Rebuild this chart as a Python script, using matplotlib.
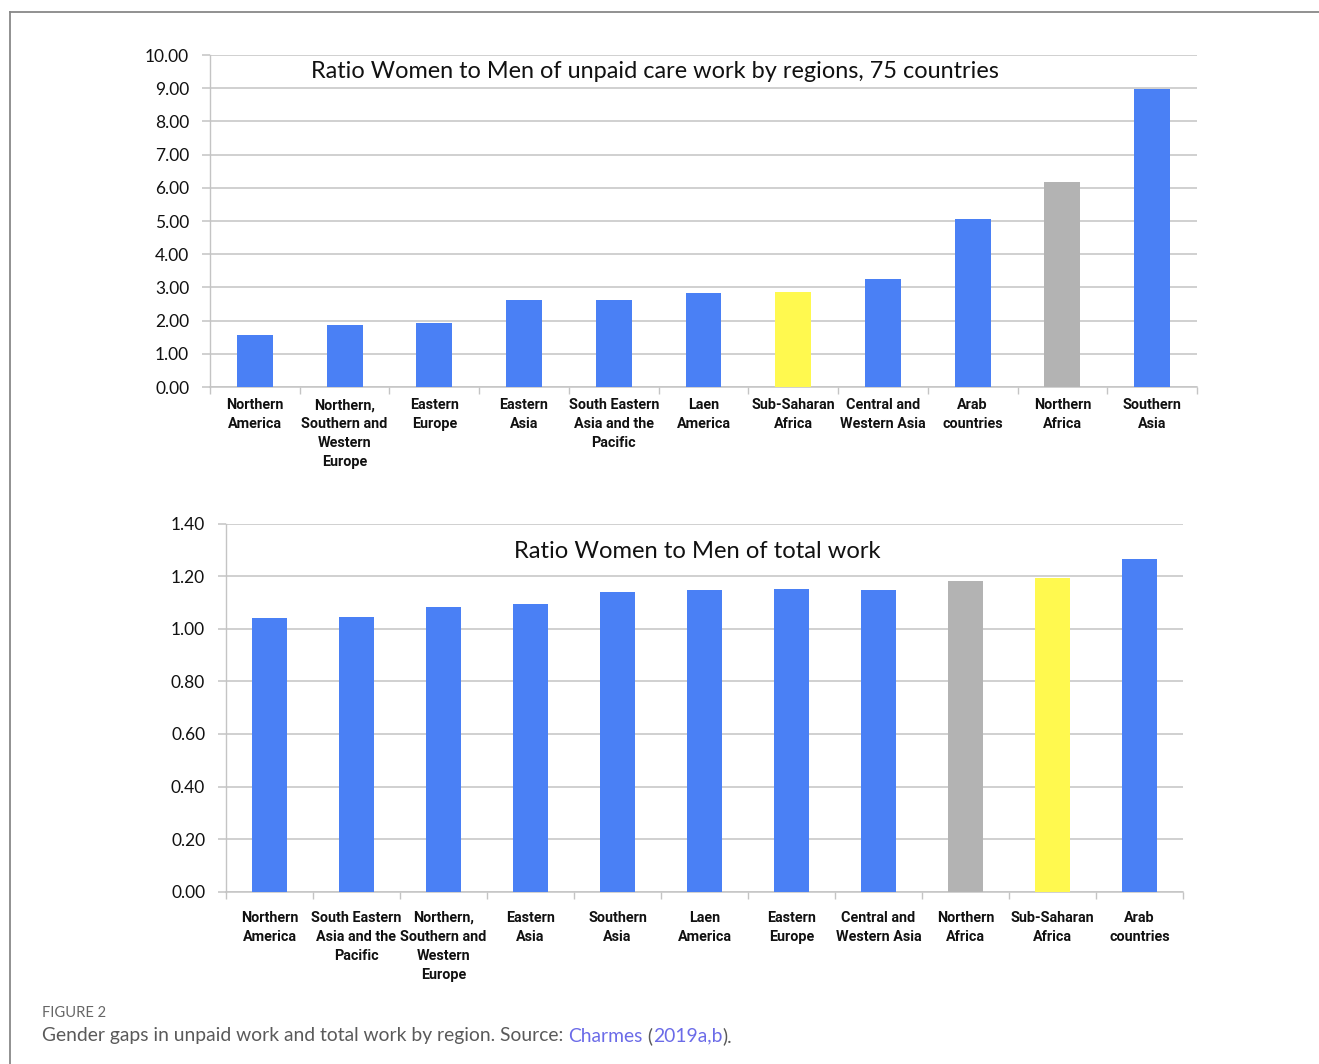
import matplotlib
matplotlib.use("Agg")
import matplotlib.pyplot as plt
from matplotlib.lines import Line2D
from matplotlib.ticker import FormatStrFormatter, FixedLocator
import numpy as np

plt.rcParams['font.family'] = ['Lato', 'DejaVu Sans']

# ---------------- data ----------------
top_regions = ["Northern\nAmerica", "Northern,\nSouthern and\nWestern\nEurope", "Eastern\nEurope",
               "Eastern\nAsia", "South Eastern\nAsia and the\nPacific", "Laen\nAmerica",
               "Sub-Saharan\nAfrica", "Central and\nWestern Asia", "Arab\ncountries",
               "Northern\nAfrica", "Southern\nAsia"]
top_values = [1.56, 1.88, 1.93, 2.61, 2.63, 2.83, 2.86, 3.25, 5.07, 6.18, 8.97]

bottom_regions = ["Northern\nAmerica", "South Eastern\nAsia and the\nPacific",
                  "Northern,\nSouthern and\nWestern\nEurope", "Eastern\nAsia", "Southern\nAsia",
                  "Laen\nAmerica", "Eastern\nEurope", "Central and\nWestern Asia",
                  "Northern\nAfrica", "Sub-Saharan\nAfrica", "Arab\ncountries"]
bottom_values = [1.043, 1.045, 1.083, 1.096, 1.141, 1.148, 1.152, 1.148, 1.184, 1.195, 1.265]

top_title = "Ratio Women to Men of unpaid care work by regions, 75 countries"
bottom_title = "Ratio Women to Men of total work"
top_yticks = [0, 1, 2, 3, 4, 5, 6, 7, 8, 9, 10]
bottom_yticks = [0, 0.2, 0.4, 0.6, 0.8, 1.0, 1.2, 1.4]

BLUE = "#4a80f5"
YELLOW = "#fff94f"
GRAY = "#b3b3b3"
highlight = {"Sub-Saharan\nAfrica": YELLOW, "Northern\nAfrica": GRAY}

GRID = "#c4c4c4"

W, H = 1319, 1064
fig = plt.figure(figsize=(W / 100, H / 100), dpi=100)


def fx(px):
    return px / W


def fy(py):
    return 1 - py / H


def make_axes(rect_px, regions, values, yticks, ymax, title, title_pos, title_size, label_pad):
    l, t, r, b = rect_px
    ax = fig.add_axes([fx(l), fy(b), fx(r) - fx(l), fy(t) - fy(b)])
    x = np.arange(len(regions))
    colors = [highlight.get(rg, BLUE) for rg in regions]
    ax.bar(x, values, width=0.4, color=colors, edgecolor='none', zorder=3)
    ax.set_xlim(-0.5, len(regions) - 0.5)
    ax.set_ylim(0, ymax)
    ax.set_yticks(yticks)
    ax.yaxis.set_major_formatter(FormatStrFormatter('%.2f'))
    ax.grid(axis='y', color=GRID, linewidth=1.1, zorder=0)
    for s in ['top', 'right']:
        ax.spines[s].set_visible(False)
    ax.spines['left'].set_color(GRID)
    ax.spines['left'].set_linewidth(1.0)
    ax.spines['bottom'].set_color(GRID)
    ax.spines['bottom'].set_linewidth(1.1)
    ax.tick_params(axis='y', length=6, color=GRID, width=1.1, pad=9,
                   labelsize=12.5, labelcolor='#111111')
    ax.set_xticks(x)
    ax.set_xticklabels(regions, fontsize=10.4, fontweight='bold', linespacing=1.45,
                       color='#111111', family=['Roboto', 'DejaVu Sans'])
    ax.xaxis.set_minor_locator(FixedLocator(np.arange(len(regions) + 1) - 0.5))
    ax.tick_params(axis='x', which='major', length=0, pad=label_pad)
    ax.tick_params(axis='x', which='minor', length=5, color=GRID, width=1.0)
    ax.text(title_pos[0], title_pos[1], title, transform=ax.transAxes,
            ha='center', va='center', fontsize=title_size, color='#111111')
    return ax


ax1 = make_axes((210, 55, 1197, 387), top_regions, top_values, top_yticks, 10,
                top_title, (0.451, 0.949), 16.9, 8)
ax2 = make_axes((226, 524, 1183, 891.5), bottom_regions, bottom_values, bottom_yticks, 1.4,
                bottom_title, (0.492, 0.924), 17.1, 14)

# frame lines
fig.add_artist(Line2D([fx(10), fx(10)], [fy(12), 0], color='#888888', lw=1.3))
fig.add_artist(Line2D([fx(10), 1], [fy(12), fy(12)], color='#888888', lw=1.3))

# caption
fig.text(fx(42), fy(1013), "FIGURE 2", fontsize=10.6, color='#666666', va='center',
         ha='left')

pieces = [("Gender gaps in unpaid work and total work by region. Source: ", '#5a5a5a'),
          ("Charmes", '#6b6be8'), (" (", '#5a5a5a'), ("2019a,b", '#6b6be8'), (").", '#5a5a5a')]
fig.canvas.draw()
renderer = fig.canvas.get_renderer()
xpos = fx(42)
for txt, col in pieces:
    t = fig.text(xpos, fy(1036), txt, fontsize=13.9, color=col, va='center', ha='left')
    bb = t.get_window_extent(renderer=renderer)
    xpos += bb.width / W

fig.savefig("out.png", dpi=100)
